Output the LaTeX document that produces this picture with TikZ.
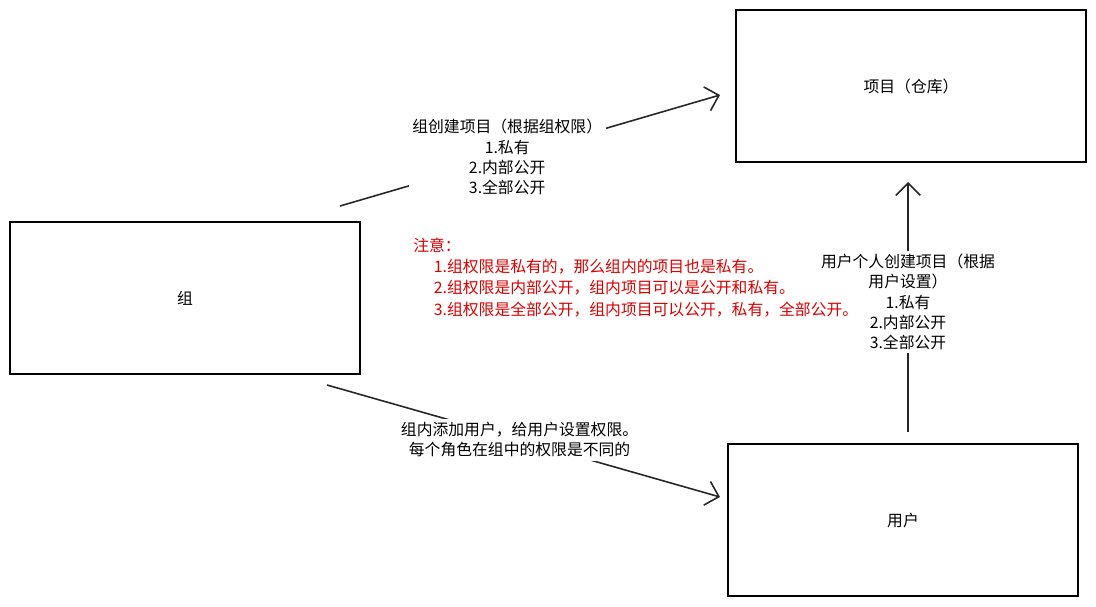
\documentclass[tikz,border=0pt]{standalone}
\usepackage{fontspec}
\setmainfont{Noto Sans CJK SC}
\usetikzlibrary{arrows.meta}
\tikzset{
  box/.style={draw, line width=0.9pt, minimum width=7cm, minimum height=3.04cm, font=\fontsize{9}{11}\selectfont},
  conn/.style={draw=black!85, line width=0.9pt, -{Straight Barb[length=7pt,width=14pt]}},
  lbl/.style={fill=white, align=center, font=\fontsize{9}{11.5}\selectfont, inner sep=2pt}
}
\begin{document}
\begin{tikzpicture}[x=0.02cm, y=-0.02cm]
  \useasboundingbox (0,0) rectangle (1096,606);
  \node[box] (xiangmu) at (911,86) {项目（仓库）};
  \node[box] (zu) at (185,298) {组};
  \node[box] (yonghu) at (903,520) {用户};
  \coordinate (zuA) at (340,206);
  \coordinate (xmA) at (720,95);
  \coordinate (zuB) at (327,385);
  \coordinate (yhB) at (720,497);
  \coordinate (yhC) at (908,432);
  \coordinate (xmC) at (908,182);
  \draw[conn] (zuA) -- node[lbl, pos=0.44] {组创建项目（根据组权限）\\1.私有\\2.内部公开\\3.全部公开} (xmA);
  \draw[conn] (zuB) -- node[lbl, pos=0.49] {组内添加用户，给用户设置权限。\\每个角色在组中的权限是不同的} (yhB);
  \draw[conn] (yhC) -- node[lbl, pos=0.52, text width=3.6cm] {用户个人创建项目（根据\\用户设置）\\1.私有\\2.内部公开\\3.全部公开} (xmC);
  \node[anchor=north west, align=left, text=red!85!black, font=\fontsize{9}{12}\selectfont, inner sep=0pt] (zhuyi) at (413,238)
    {注意：\\\hspace{1.3em}1.组权限是私有的，那么组内的项目也是私有。\\\hspace{1.3em}2.组权限是内部公开，组内项目可以是公开和私有。\\\hspace{1.3em}3.组权限是全部公开，组内项目可以公开，私有，全部公开。};
\end{tikzpicture}
\end{document}
